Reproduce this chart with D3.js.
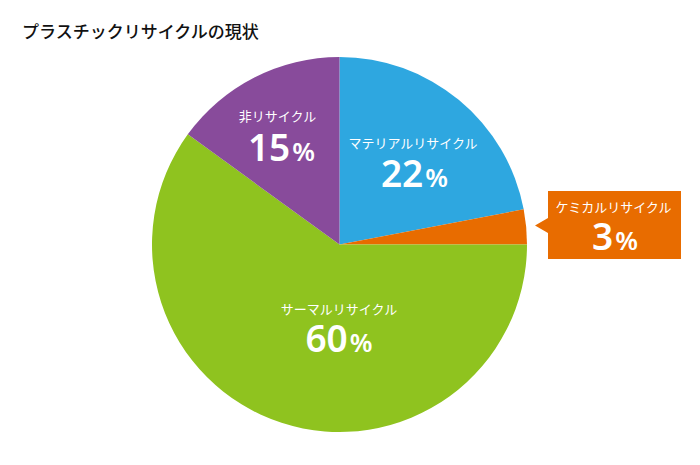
<!DOCTYPE html>
<html><head><meta charset="utf-8">
<script src="https://cdn.jsdelivr.net/npm/d3@7"></script>
<style>
html,body{margin:0;padding:0;background:#fff;}
svg{display:block;}
text{font-family:"Noto Sans CJK JP","Noto Sans",sans-serif;}
</style></head>
<body>
<script>
// Data
const categories = ["マテリアルリサイクル", "ケミカルリサイクル", "サーマルリサイクル", "非リサイクル"];
const values = [22, 3, 60, 15];
const colors = ["#2ea7e0", "#e86c00", "#8fc31f", "#884b9b"];
const title = "プラスチックリサイクルの現状";

// Layout (label placement, not data)
const W = 700, H = 465;
const cx = 339.5, cy = 244.5, R = 187.5;
const labelPos = [
  {lx: 413, ly: 147.5, nx: 414.5, ny: 187},
  {lx: 613.5, ly: 211.5, nx: 615, ny: 250},
  {lx: 339, ly: 313.5, nx: 339, ny: 351.5},
  {lx: 277.5, ly: 121, nx: 281.5, ny: 160.5}
];

const svg = d3.select("body").append("svg").attr("width", W).attr("height", H);

svg.append("text").attr("x", 22).attr("y", 37.5)
  .attr("font-size", 17).attr("font-weight", 500).attr("fill", "#111")
  .text(title);

const pie = d3.pie().sort(null).value(d => d)(values);
const arc = d3.arc().innerRadius(0).outerRadius(R);

const g = svg.append("g").attr("transform", `translate(${cx},${cy})`);
g.selectAll("path").data(pie).join("path")
  .attr("d", arc)
  .attr("fill", (d, i) => colors[i]);

// Callout box for the small slice
const cb = {x0: 548, y0: 191, x1: 681, y1: 259, tipX: 535, tipY: 225.5, a0: 218, a1: 233};
svg.append("path")
  .attr("d", `M${cb.x0},${cb.y0}H${cb.x1}V${cb.y1}H${cb.x0}V${cb.a1}L${cb.tipX},${cb.tipY}L${cb.x0},${cb.a0}Z`)
  .attr("fill", colors[1]);

const labels = svg.append("g");
categories.forEach((c, i) => {
  const p = labelPos[i];
  labels.append("text").attr("x", p.lx).attr("y", p.ly)
    .attr("text-anchor", "middle").attr("font-size", 13).attr("fill", "#fff")
    .attr("font-weight", 400)
    .text(c);
  const t = labels.append("text").attr("x", p.nx).attr("y", p.ny)
    .attr("text-anchor", "middle").attr("fill", "#fff").attr("font-weight", 600)
    .style("font-family", "'Noto Sans','Open Sans',sans-serif");
  t.append("tspan").attr("font-size", 37).text(values[i]);
  t.append("tspan").attr("font-size", 26).attr("dx", 2).text("%");
});
</script>
</body></html>
